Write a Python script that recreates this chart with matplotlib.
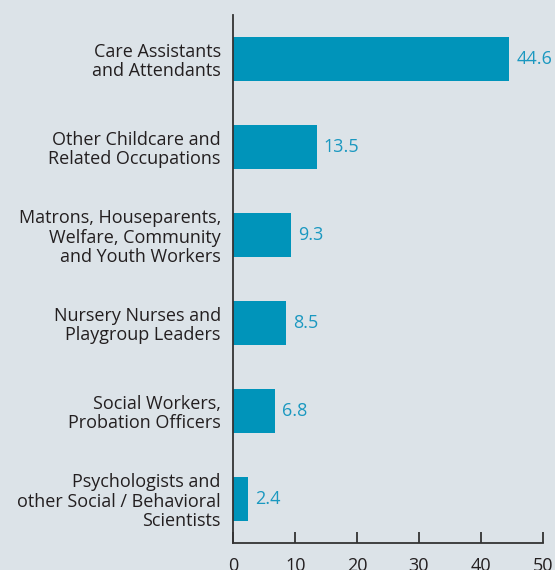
import matplotlib
matplotlib.use("Agg")
import matplotlib.pyplot as plt

# --------------------------
# Data
# --------------------------
categories = [
    "Care Assistants\nand Attendants",
    "Other Childcare and\nRelated Occupations",
    "Matrons, Houseparents,\nWelfare, Community\nand Youth Workers",
    "Nursery Nurses and\nPlaygroup Leaders",
    "Social Workers,\nProbation Officers",
    "Psychologists and\nother Social / Behavioral\nScientists",
]
values = [44.6, 13.5, 9.3, 8.5, 6.8, 2.4]
xticks = [0, 10, 20, 30, 40, 50]

BG = "#dce3e8"
BAR = "#0094ba"
TXT = "#231f20"

plt.rcParams['font.family'] = ['Open Sans', 'DejaVu Sans']

fig = plt.figure(figsize=(5.55, 5.70), dpi=100, facecolor=BG)
ax = fig.add_axes([0.4204, 0.0474, 0.5575, 0.9263], facecolor=BG)

y = list(range(len(values)))
ax.barh(y, values, height=0.49, color=BAR)
for yi, v in zip(y, values):
    ax.text(v + 1.1, yi, f"{v}", va="center", ha="left", color="#1a98c0", fontsize=13)

ax.set_ylim(5.5, -0.5)
ax.set_xlim(0, 50)
ax.set_yticks(y)
ax.set_yticklabels(categories, fontsize=13, color=TXT, linespacing=1.08)
ax.set_xticks(xticks)
ax.set_xticklabels([str(t) for t in xticks], fontsize=13, color=TXT)
ax.tick_params(axis="y", length=0, pad=9)
ax.tick_params(axis="x", direction="in", length=8, width=1.3, color="#333333", pad=10)

for s in ["top", "right"]:
    ax.spines[s].set_visible(False)
for s in ["left", "bottom"]:
    ax.spines[s].set_color("#333333")
    ax.spines[s].set_linewidth(1.3)

fig.savefig("out.png", dpi=100, facecolor=BG)
